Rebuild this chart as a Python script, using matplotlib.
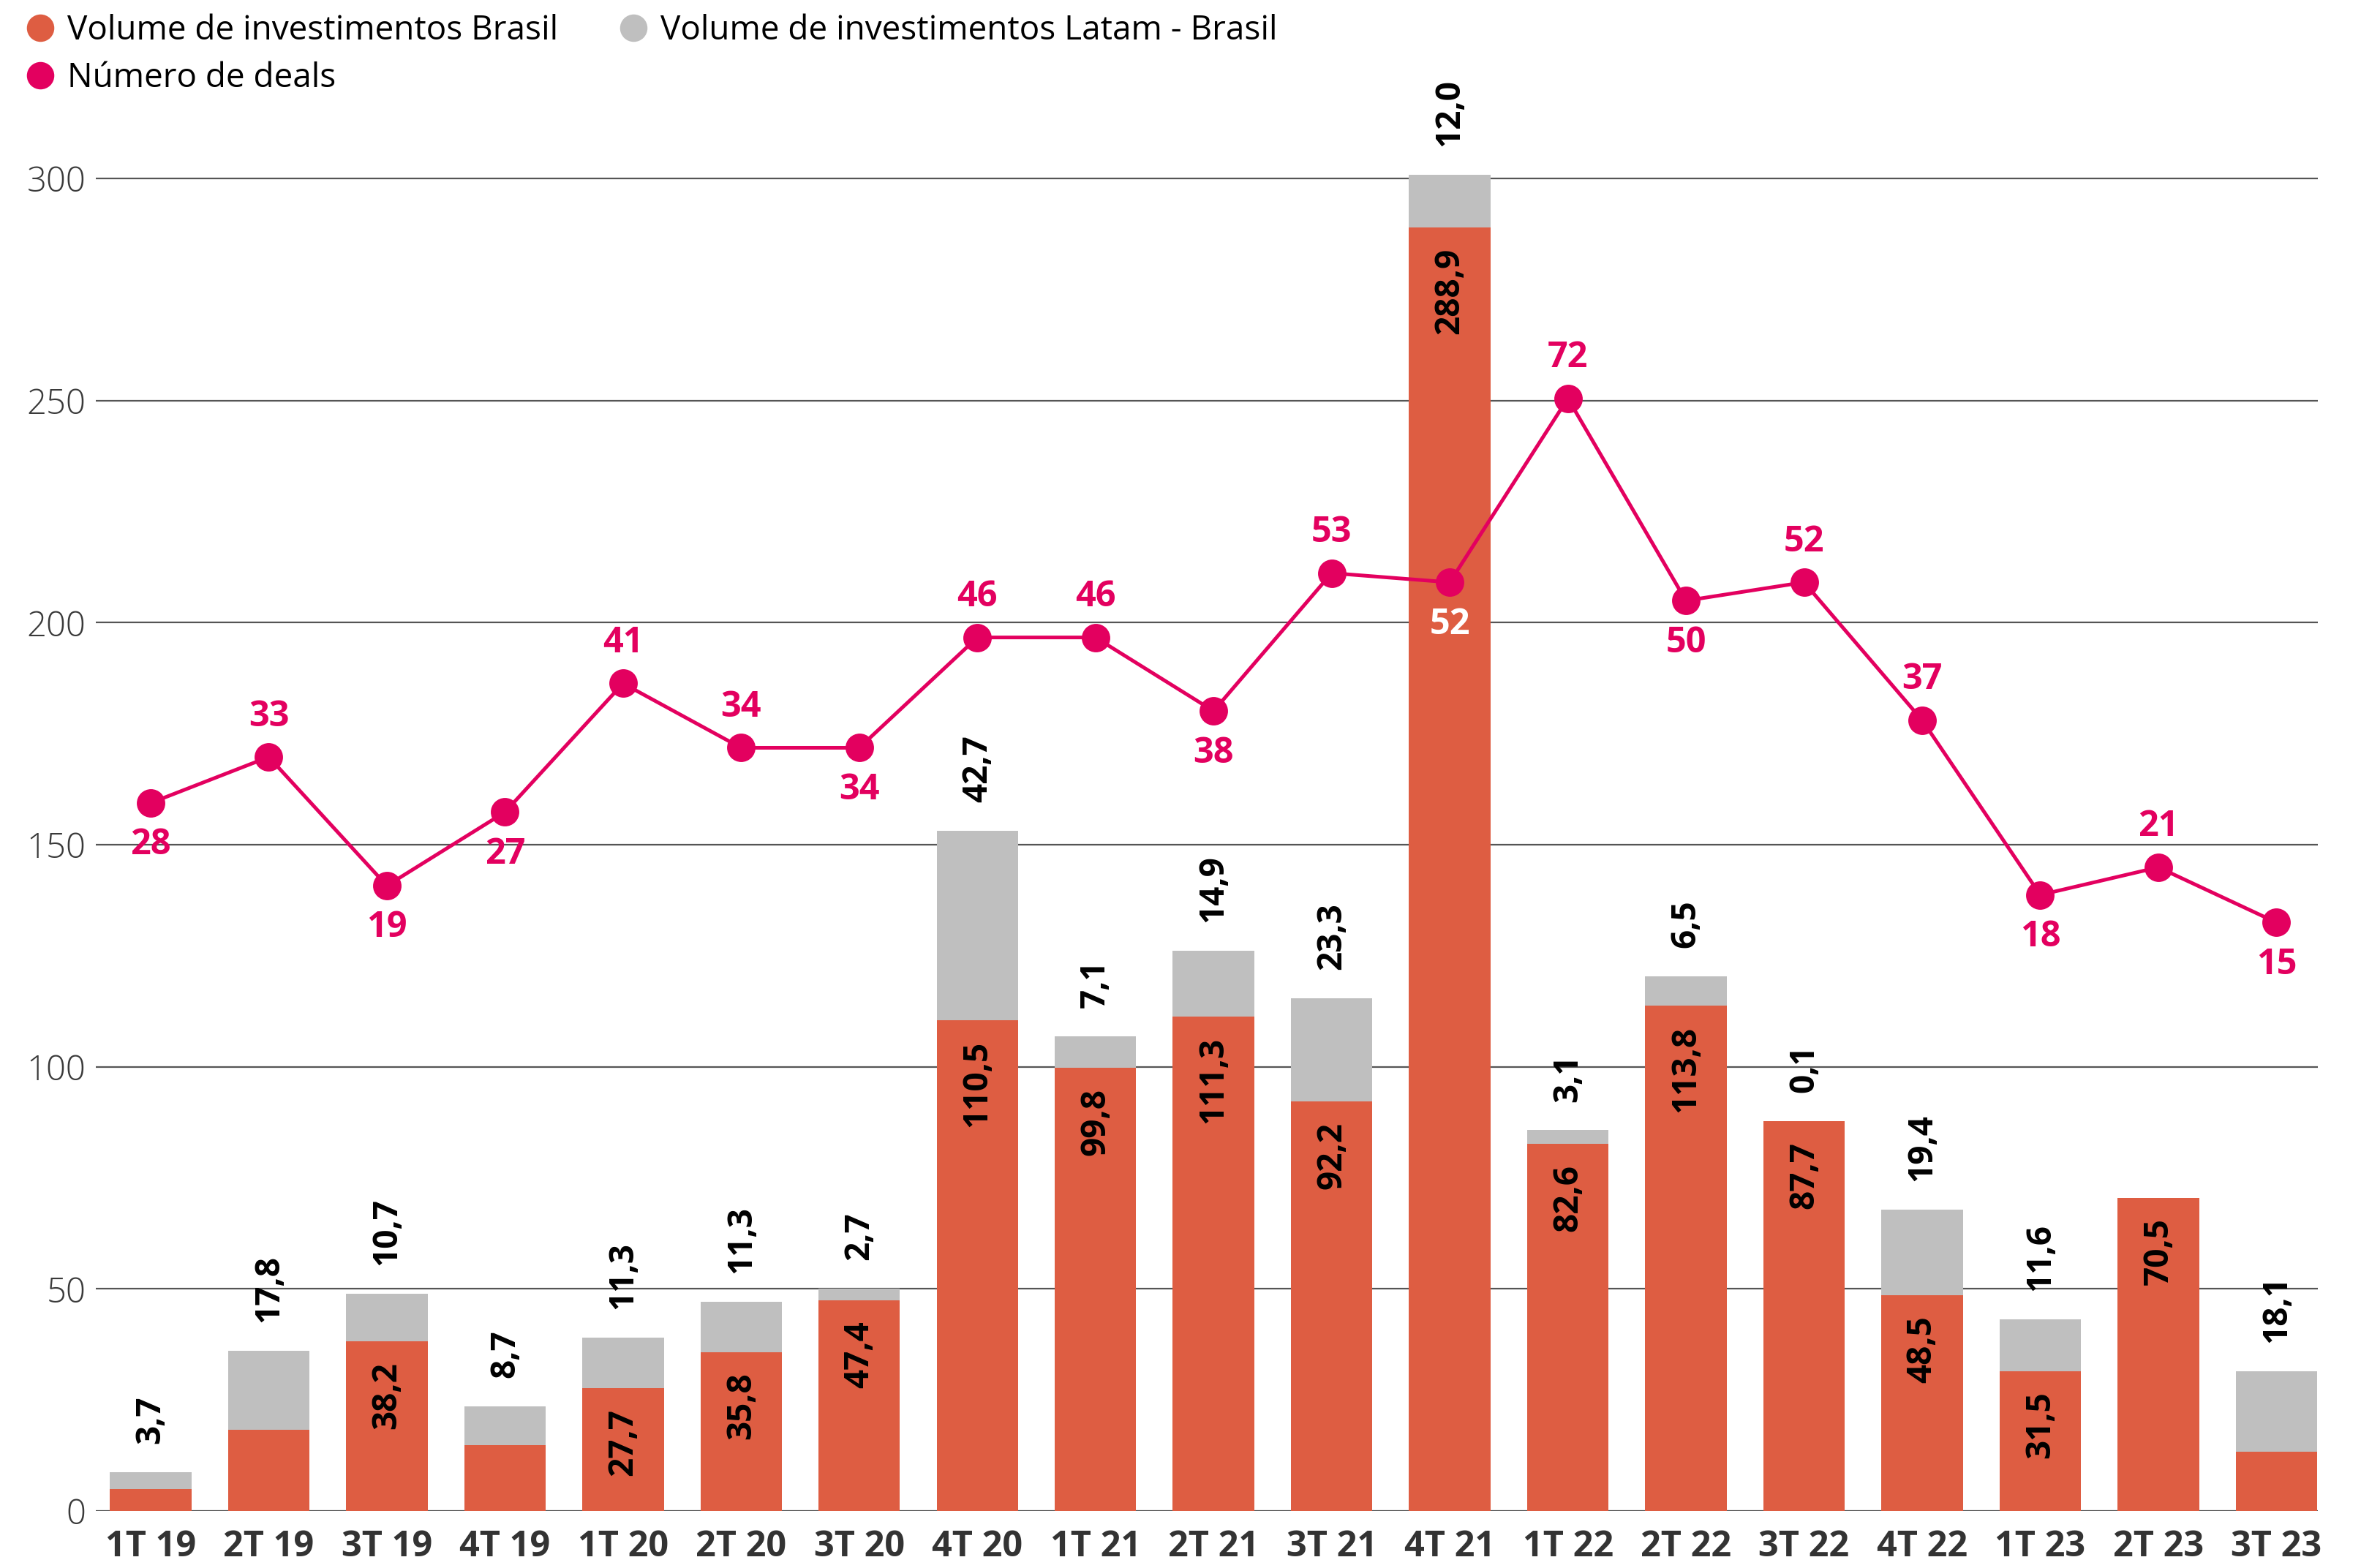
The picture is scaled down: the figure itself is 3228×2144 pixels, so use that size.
import numpy as np
import matplotlib.pyplot as plt
from matplotlib.lines import Line2D

plt.rcParams['font.family'] = ['Open Sans', 'DejaVu Sans']

# Data
quarters = ['1T 19', '2T 19', '3T 19', '4T 19', '1T 20', '2T 20', '3T 20', '4T 20',
            '1T 21', '2T 21', '3T 21', '4T 21', '1T 22', '2T 22', '3T 22', '4T 22',
            '1T 23', '2T 23', '3T 23']
brasil = [5.0, 18.3, 38.2, 14.8, 27.7, 35.8, 47.4, 110.5, 99.8, 111.3, 92.2, 288.9,
          82.6, 113.8, 87.7, 48.5, 31.5, 70.5, 13.4]
latam = [3.7, 17.8, 10.7, 8.7, 11.3, 11.3, 2.7, 42.7, 7.1, 14.9, 23.3, 12.0,
         3.1, 6.5, 0.1, 19.4, 11.6, 0.0, 18.1]
deals = [28, 33, 19, 27, 41, 34, 34, 46, 46, 38, 53, 52, 72, 50, 52, 37, 18, 21, 15]
# label above (1) or below (-1) the point
deal_pos = [-1, 1, -1, -1, 1, 1, -1, 1, 1, -1, 1, -1, 1, -1, 1, 1, -1, 1, -1]

ORANGE = '#DE5D42'
GRAY = '#BFBFBF'
MAGENTA = '#E3005F'

fig = plt.figure(figsize=(16.14, 10.72), dpi=200)
ax = fig.add_axes([0.0406, 0.0364, 0.9411, 0.8696])

x = np.arange(len(quarters))
ax.bar(x, brasil, width=0.69, color=ORANGE, zorder=2)
ax.bar(x, latam, width=0.69, bottom=brasil, color=GRAY, zorder=2)

fs = 16.5
for i in x:
    if brasil[i] >= 20:
        ax.annotate(f'{brasil[i]:.1f}'.replace('.', ','), (i, brasil[i]),
                    xytext=(0, -10), textcoords='offset points', rotation=90,
                    ha='center', va='top', fontsize=fs, fontweight='bold', color='black')
    if latam[i] > 0:
        ax.annotate(f'{latam[i]:.1f}'.replace('.', ','), (i, brasil[i] + latam[i]),
                    xytext=(0, 14), textcoords='offset points', rotation=90,
                    ha='center', va='bottom', fontsize=fs, fontweight='bold', color='black')

ax.set_xlim(-0.464, 18.35)
ax.set_ylim(0, 307)
ax.set_yticks([0, 50, 100, 150, 200, 250, 300])
ax.set_xticks(x)
ax.set_xticklabels(quarters, fontsize=17.5, fontweight='bold', color='#333333')
ax.tick_params(axis='x', length=0, pad=9)
ax.tick_params(axis='y', length=0, pad=5, labelsize=17, labelcolor='#3a3a3a')
for lab in ax.get_yticklabels():
    lab.set_fontweight('light')
ax.grid(axis='y', color='#555555', linewidth=0.8)
ax.set_axisbelow(True)
for s in ax.spines.values():
    s.set_visible(False)

# deals line on hidden secondary axis
ax2 = ax.twinx()
ax2.plot(x, deals, color=MAGENTA, linewidth=1.8, marker='o', markersize=13, zorder=3)
ax2.set_ylim(-49, 99.3)
ax2.set_yticks([])
for s in ax2.spines.values():
    s.set_visible(False)
for i in x:
    col = 'white' if i == 11 else MAGENTA
    if deal_pos[i] > 0:
        ax2.annotate(str(deals[i]), (i, deals[i]), xytext=(0, 11), textcoords='offset points',
                     ha='center', va='bottom', fontsize=17.5, fontweight='bold', color=col)
    else:
        ax2.annotate(str(deals[i]), (i, deals[i]), xytext=(0, -12), textcoords='offset points',
                     ha='center', va='top', fontsize=17.5, fontweight='bold', color=col)

handles = [
    Line2D([], [], linestyle='none', marker='o', markersize=12.5, color=ORANGE,
           label='Volume de investimentos Brasil'),
    Line2D([], [], linestyle='none', marker='o', markersize=12.5, color=MAGENTA,
           label='Número de deals'),
    Line2D([], [], linestyle='none', marker='o', markersize=12.5, color=GRAY,
           label='Volume de investimentos Latam - Brasil'),
]
fig.legend(handles=handles, loc='upper left', bbox_to_anchor=(0.0, 1.006), ncol=2,
           frameon=False, fontsize=16.5, handletextpad=0.3, columnspacing=1.75,
           labelspacing=0.4, handlelength=1.0, borderaxespad=0.3)

fig.savefig('out.png', dpi=200)
